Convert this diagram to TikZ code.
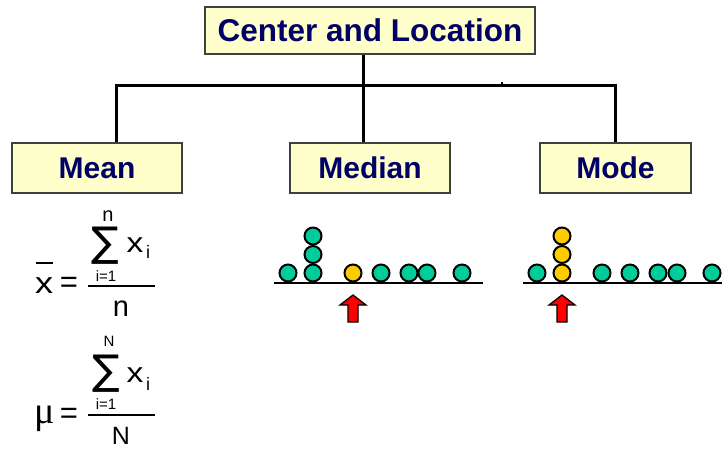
\documentclass[tikz,border=0pt]{standalone}
\usepackage{fontspec}
\setmainfont{Liberation Sans}
\newfontfamily\serf{Liberation Serif}
\newfontfamily\dvs{DejaVu Sans}
\definecolor{boxfill}{RGB}{255,255,204}
\definecolor{navy}{RGB}{0,0,102}
\definecolor{dotgreen}{RGB}{0,204,153}
\definecolor{dotyellow}{RGB}{255,204,0}
\newcommand{\fs}[1]{\fontsize{#1}{#1}\selectfont}
\newcommand{\wx}{\scalebox{1.2}[1]{x}}
\begin{document}
\begin{tikzpicture}[x=1pt,y=-1pt,
  box/.style={draw=black!75, line width=1.3pt, fill=boxfill, inner sep=0pt,
              font=\bfseries\fs{30}, text=navy},
  conn/.style={line width=3pt, black},
  base/.style={line width=2.4pt, black},
  gdot/.style={circle, draw=black, line width=2pt, minimum size=17pt, inner sep=0pt, fill=dotgreen},
  ydot/.style={gdot, fill=dotyellow},
  uparrow/.style={draw=black, line width=1.3pt, fill=red},
  txt/.style={inner sep=0pt, anchor=center},
  bigf/.style={txt, font=\fs{30}},
  smallf/.style={txt, font=\fs{15}},
  limf/.style={txt, font=\fs{20}},
  subf/.style={txt, font=\fs{18}},
  sumf/.style={txt, font=\dvs\fs{41}},
  barline/.style={line width=1.8pt}]
\useasboundingbox (0,0) rectangle (722,449);

% boxes
\node[box, font=\bfseries\fs{31.5}, minimum width=330pt, minimum height=47pt] (top) at (370,30.5) {Center and Location};
\node[box, minimum width=170pt, minimum height=50pt] (mean) at (97,168) {Mean};
\node[box, minimum width=160pt, minimum height=50pt] (median) at (370,168) {Median};
\node[box, minimum width=151pt, minimum height=50pt] (mode) at (615.5,168) {Mode};

% connectors
\coordinate (hl) at (116,86);
\coordinate (hm) at (363,86);
\coordinate (hr) at (615,86);
\coordinate (tick) at (502,82);
\draw[conn] (hm |- top.south) -- (hm);
\draw[conn] ([xshift=-1.5pt]hl) -- ([xshift=1.5pt]hr);
\draw[conn] (hl) -- (hl |- mean.north);
\draw[conn] (hm) -- (hm |- median.north);
\draw[conn] (hr) -- (hr |- mode.north);
\draw[line width=1.5pt] (tick) -- ++(0,3);

% formula 1
\node[bigf] (xbar) at (44,285.5) {\wx};
\draw[barline] (36,263) -- (53,263);
\node[bigf, font=\fs{31}] (eq1) at (69,284.5) {=};
\node[sumf] (sum1) at (105,246) {∑};
\node[limf] (up1) at (108,216) {n};
\node[smallf] (lo1) at (106,276) {i=1};
\node[bigf, font=\fs{28}] (num1) at (135,245) {\wx};
\node[subf] (sub1) at (148,252) {i};
\draw[barline] (88,286) -- (155,286);
\node[txt, font=\fs{29}] (den1) at (121,309) {n};

% formula 2
\node[txt, font=\serf\fs{38}] (mu) at (45,419) {μ};
\node[bigf, font=\fs{31}] (eq2) at (69,415.5) {=};
\node[sumf] (sum2) at (106,374) {∑};
\node[smallf] (up2) at (109,341) {N};
\node[smallf] (lo2) at (106,404) {i=1};
\node[bigf, font=\fs{28}] (num2) at (135,375) {\wx};
\node[subf] (sub2) at (148,384) {i};
\draw[barline] (88,415) -- (155,415);
\node[txt, font=\fs{25}] (den2) at (121,436) {N};

% median dot plot
\coordinate (m1s) at (274,283);
\coordinate (m1e) at (483,283);
\draw[base] (m1s) -- (m1e);
\node[gdot] (a1) at (288,273) {};
\node[gdot] (a2) at (313,273) {};
\node[gdot] (a3) at (313,254.5) {};
\node[gdot] (a4) at (313,236) {};
\node[ydot] (a5) at (353,273) {};
\node[gdot] (a6) at (381,273) {};
\node[gdot] (a7) at (409,273) {};
\node[gdot] (a8) at (427,273) {};
\node[gdot] (a9) at (462,273) {};
\draw[uparrow] (353,295) -- (366,305) -- (358,305) -- (358,322) -- (348,322) -- (348,305) -- (340,305) -- cycle;

% mode dot plot
\coordinate (m2s) at (523,283);
\coordinate (m2e) at (722,283);
\draw[base] (m2s) -- (m2e);
\node[gdot] (b1) at (537,273) {};
\node[ydot] (b2) at (562,273) {};
\node[ydot] (b3) at (562,254.5) {};
\node[ydot] (b4) at (562,236) {};
\node[gdot] (b5) at (602,273) {};
\node[gdot] (b6) at (630,273) {};
\node[gdot] (b7) at (658,273) {};
\node[gdot] (b8) at (677,273) {};
\node[gdot] (b9) at (712,273) {};
\draw[uparrow] (562,295) -- (575,305) -- (567,305) -- (567,322) -- (557,322) -- (557,305) -- (549,305) -- cycle;
\end{tikzpicture}
\end{document}
